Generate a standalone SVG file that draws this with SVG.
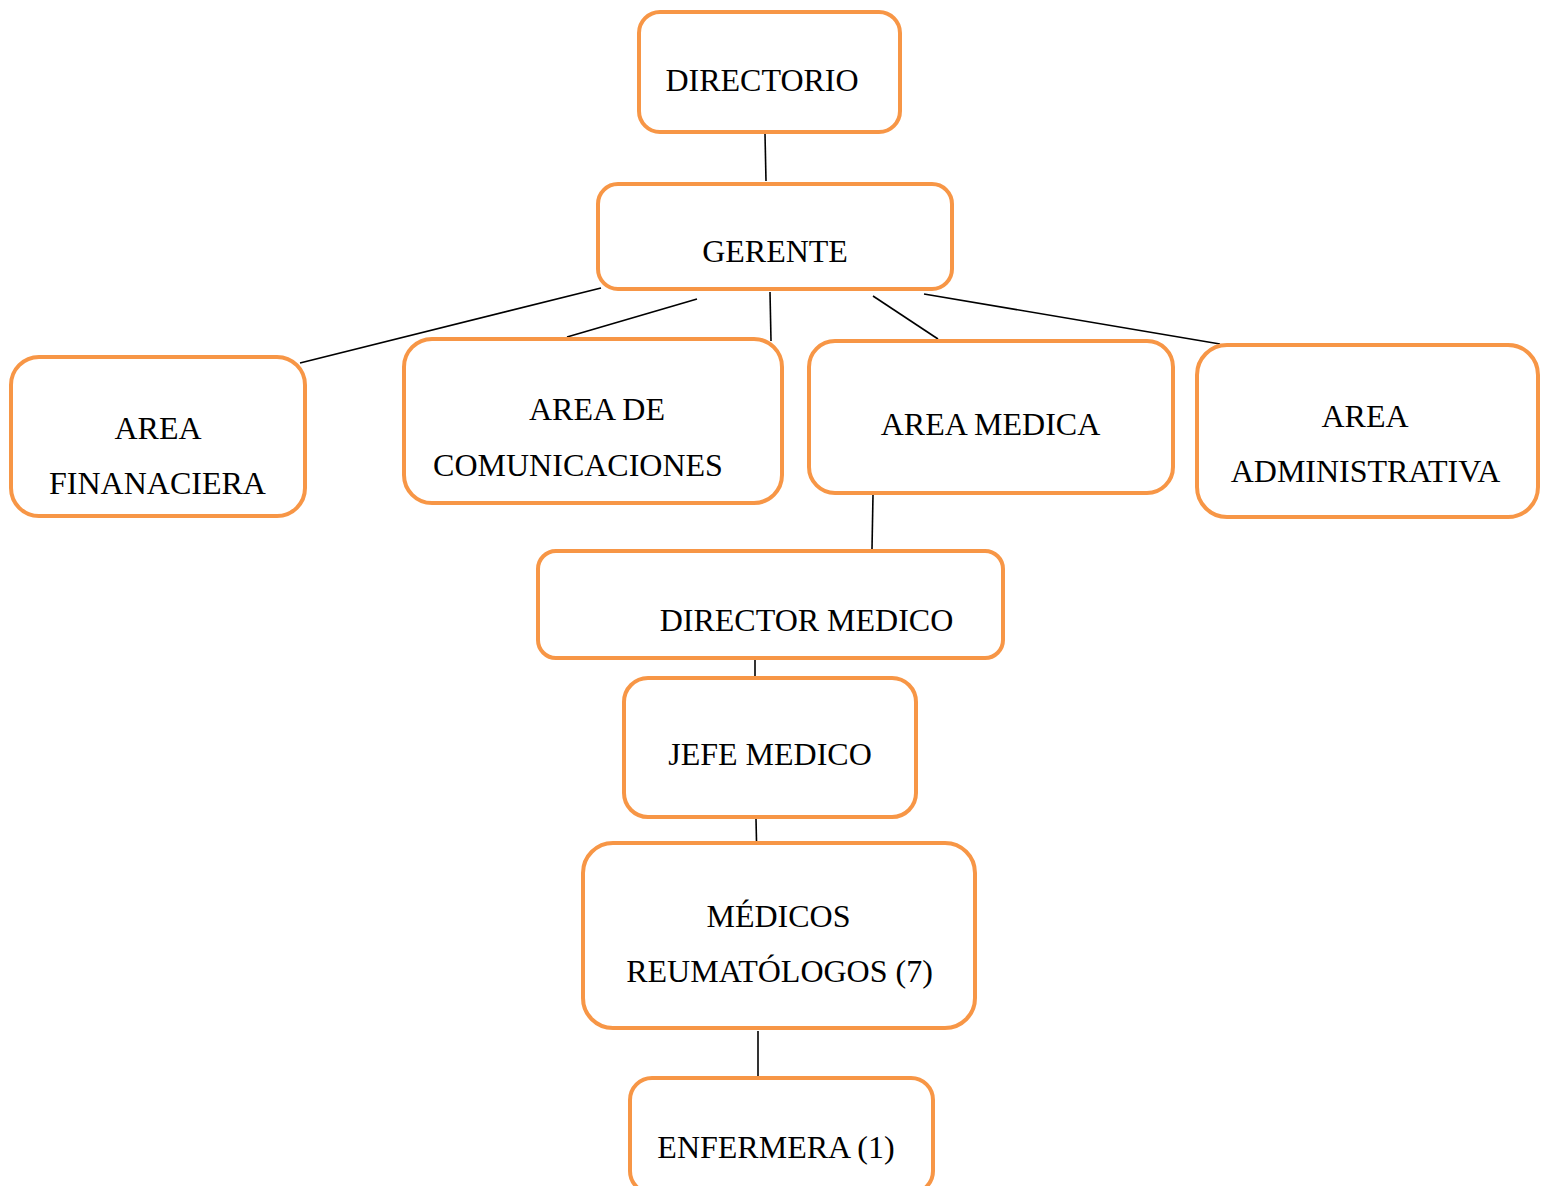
<svg xmlns="http://www.w3.org/2000/svg" width="1541" height="1186" viewBox="0 0 1541 1186">
<style>
.box{fill:#FFFFFF;stroke:#F79646;stroke-width:4}
.lbl{font-family:"Liberation Serif","Times New Roman",serif;font-size:32px;fill:#000000;text-anchor:middle}
.conn line{stroke:#000000;stroke-width:1.6}
</style>
<rect x="0" y="0" width="1541" height="1186" fill="#FFFFFF"/>
<g id="connectors" class="conn">
<line x1="765" y1="134" x2="766" y2="181"/>
<line x1="601" y1="288" x2="300" y2="363"/>
<line x1="697" y1="299" x2="567" y2="337"/>
<line x1="770" y1="292" x2="771" y2="341"/>
<line x1="873" y1="296" x2="938" y2="339"/>
<line x1="924" y1="294" x2="1220" y2="344"/>
<line x1="873" y1="495" x2="872" y2="549"/>
<line x1="755" y1="660" x2="755" y2="676"/>
<line x1="756" y1="819" x2="756.5" y2="841"/>
<line x1="758" y1="1031" x2="758" y2="1076"/>
</g>
<g id="directorio">
<rect class="box" x="639" y="12" width="261" height="120" rx="21"/>
<text class="lbl" x="762" y="91">DIRECTORIO</text>
</g>
<g id="gerente">
<rect class="box" x="598" y="184" width="354" height="105" rx="20"/>
<text class="lbl" x="775" y="262">GERENTE</text>
</g>
<g id="area-financiera">
<rect class="box" x="11" y="357" width="294" height="159" rx="28"/>
<text class="lbl" x="158" y="439">AREA</text>
<text class="lbl" x="157.5" y="494">FINANACIERA</text>
</g>
<g id="area-comunicaciones">
<rect class="box" x="404" y="339" width="378" height="164" rx="28"/>
<text class="lbl" x="597" y="420">AREA DE</text>
<text class="lbl" x="578" y="476">COMUNICACIONES</text>
</g>
<g id="area-medica">
<rect class="box" x="809" y="341" width="364" height="152" rx="26"/>
<text class="lbl" x="990.5" y="435">AREA MEDICA</text>
</g>
<g id="area-administrativa">
<rect class="box" x="1197" y="345" width="341" height="172" rx="30"/>
<text class="lbl" x="1365" y="427">AREA</text>
<text class="lbl" x="1365.5" y="482">ADMINISTRATIVA</text>
</g>
<g id="director-medico">
<rect class="box" x="538" y="551" width="465" height="107" rx="18"/>
<text class="lbl" x="806.5" y="631">DIRECTOR MEDICO</text>
</g>
<g id="jefe-medico">
<rect class="box" x="624" y="678" width="292" height="139" rx="24"/>
<text class="lbl" x="770" y="765">JEFE MEDICO</text>
</g>
<g id="medicos-reumatologos">
<rect class="box" x="583" y="843" width="392" height="185" rx="30"/>
<text class="lbl" x="778.5" y="927">MÉDICOS</text>
<text class="lbl" x="779.5" y="982">REUMATÓLOGOS (7)</text>
</g>
<g id="enfermera">
<rect class="box" x="630" y="1078" width="303" height="115" rx="22"/>
<text class="lbl" x="776" y="1158">ENFERMERA (1)</text>
</g>
</svg>
